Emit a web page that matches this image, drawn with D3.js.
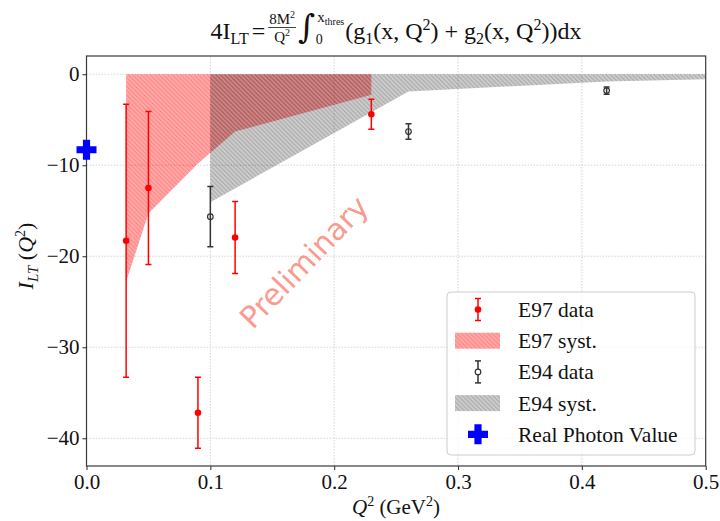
<!DOCTYPE html>
<html>
<head>
<meta charset="utf-8">
<script src="https://cdn.jsdelivr.net/npm/d3@7"></script>
<style>
  html, body { margin: 0; padding: 0; background: #fff; }
  svg { display: block; }
</style>
</head>
<body>
<svg id="chart" width="720" height="521"></svg>
<script>
// E97 measurements (points with statistical errors)
const e97X   = [0.032, 0.05, 0.09, 0.12, 0.23];
const e97Y   = [-18.3, -12.5, -37.2, -17.95, -4.4];
const e97Err = [15.0, 8.4, 3.9, 3.95, 1.65];
// E97 systematic band (from 0 down to these values)
const e97SystX   = [0.032, 0.05, 0.09, 0.12, 0.23];
const e97SystLow = [-22.8, -15.3, -9.8, -6.3, -2.27];

// E94 measurements
const e94X   = [0.10, 0.26, 0.42];
const e94Y   = [-15.65, -6.3, -1.8];
const e94Err = [3.3, 0.85, 0.4];
// E94 systematic band
const e94SystX   = [0.10, 0.26, 0.42, 0.50];
const e94SystLow = [-14.07, -1.9, -0.8, -0.55];

// Real photon point
const photonX = [0.0];
const photonY = [-8.3];

const xTicks = [0.0, 0.1, 0.2, 0.3, 0.4, 0.5];
const yTicks = [0, -10, -20, -30, -40];
const legendLabels = ["E97 data", "E97 syst.", "E94 data", "E94 syst.", "Real Photon Value"];

const SERIF = "'Liberation Serif', 'Times New Roman', serif";
const svg = d3.select("#chart");

const plotL = 86.5, plotR = 705.7, plotT = 56, plotB = 466;
const x = d3.scaleLinear().domain([0, 0.5]).range([plotL, plotR]);
const y = d3.scaleLinear().domain([-43.05, 2.0]).range([plotB, plotT]);

// hatch patterns
const defs = svg.append("defs");
function hatch(id, bg, line) {
  const p = defs.append("pattern").attr("id", id)
    .attr("patternUnits", "userSpaceOnUse")
    .attr("width", 3.1).attr("height", 3.1)
    .attr("patternTransform", "rotate(-45)");
  p.append("rect").attr("width", 3.1).attr("height", 3.1).attr("fill", bg);
  p.append("line").attr("x1", 0.6).attr("x2", 0.6).attr("y1", 0).attr("y2", 3.1)
    .attr("stroke", line).attr("stroke-width", 1);
}
hatch("hRed", "rgba(255,0,0,0.34)", "rgba(255,0,0,0.22)");
hatch("hGrey", "rgba(0,0,0,0.2)", "rgba(0,0,0,0.18)");

defs.append("clipPath").attr("id", "plotClip")
  .append("rect").attr("x", plotL).attr("y", plotT)
  .attr("width", plotR - plotL).attr("height", plotB - plotT);

// grid
const grid = svg.append("g");
grid.selectAll(".gx").data(xTicks.slice(1, -1)).join("line")
  .attr("x1", d => x(d)).attr("x2", d => x(d))
  .attr("y1", plotT).attr("y2", plotB)
  .attr("stroke", "#d4d4d4").attr("stroke-width", 1).attr("stroke-dasharray", "1.5,1.5");
grid.selectAll(".gy").data(yTicks).join("line")
  .attr("y1", d => y(d)).attr("y2", d => y(d))
  .attr("x1", plotL).attr("x2", plotR)
  .attr("stroke", "#d4d4d4").attr("stroke-width", 1).attr("stroke-dasharray", "1.5,1.5");

// systematic bands
const plot = svg.append("g").attr("clip-path", "url(#plotClip)");
const area = d3.area().x(d => x(d[0])).y0(y(0)).y1(d => y(d[1]));
plot.append("path").datum(d3.zip(e97SystX, e97SystLow))
  .attr("d", area).attr("fill", "url(#hRed)");
plot.append("path").datum(d3.zip(e94SystX, e94SystLow))
  .attr("d", area).attr("fill", "url(#hGrey)");

// watermark
svg.append("text")
  .attr("transform", `translate(304,262) rotate(-46)`)
  .attr("text-anchor", "middle").attr("dominant-baseline", "central")
  .attr("font-family", "'DejaVu Sans', sans-serif").attr("font-size", 30)
  .attr("fill", "#fa8072").attr("fill-opacity", 0.8)
  .text("Preliminary");

// error bars
function errorBars(xs, ys, es, color, open) {
  const g = plot.append("g");
  xs.forEach((xv, i) => {
    const cx = x(xv), y1 = y(ys[i] + es[i]), y2 = y(ys[i] - es[i]);
    g.append("line").attr("x1", cx).attr("x2", cx).attr("y1", y1).attr("y2", y2)
      .attr("stroke", color).attr("stroke-width", 1.5);
    [y1, y2].forEach(cy => g.append("line").attr("x1", cx - 3).attr("x2", cx + 3)
      .attr("y1", cy).attr("y2", cy).attr("stroke", color).attr("stroke-width", 1.5));
    g.append("circle").attr("cx", cx).attr("cy", y(ys[i])).attr("r", open ? 2.8 : 3.3)
      .attr("fill", open ? "none" : color)
      .attr("stroke", color).attr("stroke-width", open ? 1.2 : 0);
  });
}
errorBars(e97X, e97Y, e97Err, "#ff0000", false);
errorBars(e94X, e94Y, e94Err, "#333333", true);

// frame
svg.append("rect").attr("x", plotL).attr("y", plotT)
  .attr("width", plotR - plotL).attr("height", plotB - plotT)
  .attr("fill", "none").attr("stroke", "#3a3a3a").attr("stroke-width", 1.2);

// axes
const xAxis = svg.append("g").attr("transform", `translate(0,${plotB})`)
  .call(d3.axisBottom(x).tickValues(xTicks).tickFormat(d3.format(".1f")).tickSize(4).tickPadding(4));
const yAxis = svg.append("g").attr("transform", `translate(${plotL},0)`)
  .call(d3.axisLeft(y).tickValues(yTicks).tickFormat(d => d < 0 ? "\u2212" + Math.abs(d) : d).tickSize(4).tickPadding(3));
[xAxis, yAxis].forEach(a => {
  a.select(".domain").remove();
  a.selectAll(".tick line").attr("stroke", "#3a3a3a").attr("stroke-width", 1.1);
  a.selectAll(".tick text").attr("font-family", SERIF).attr("font-size", 21).attr("fill", "#111");
});

// photon marker (drawn on top, not clipped)
const plusPath = "M-3.6,-10H3.6V-3.6H10V3.6H3.6V10H-3.6V3.6H-10V-3.6H-3.6Z";
svg.selectAll(".photon").data(d3.zip(photonX, photonY)).join("path")
  .attr("d", plusPath).attr("fill", "#0000ff")
  .attr("transform", d => `translate(${x(d[0])},${y(d[1])})`);

// axis labels
const xl = svg.append("text").attr("x", 396).attr("y", 514)
  .attr("text-anchor", "middle").attr("font-family", SERIF).attr("font-size", 21).attr("fill", "#111");
xl.append("tspan").attr("font-style", "italic").text("Q");
xl.append("tspan").attr("font-size", 14).attr("dy", -8).text("2");
xl.append("tspan").attr("dy", 8).text(" (GeV");
xl.append("tspan").attr("font-size", 14).attr("dy", -8).text("2");
xl.append("tspan").attr("dy", 8).text(")");

const yl = svg.append("text").attr("transform", "translate(33,256) rotate(-90)")
  .attr("text-anchor", "middle").attr("font-family", SERIF).attr("font-size", 22).attr("fill", "#111");
yl.append("tspan").attr("font-style", "italic").text("I");
yl.append("tspan").attr("font-style", "italic").attr("font-size", 15).attr("dy", 5).text("LT");
yl.append("tspan").attr("dy", -5).text(" (");
yl.append("tspan").attr("font-style", "italic").text("Q");
yl.append("tspan").attr("font-size", 14).attr("dy", -8).text("2");
yl.append("tspan").attr("dy", 8).text(")");

// title formula
const tg = svg.append("g");
function put(parent, px, py, txt, size, italic, family) {
  const t = parent.append("text").attr("x", px).attr("y", py)
    .attr("font-family", family || SERIF).attr("font-size", size)
    .attr("font-style", italic ? "italic" : "normal").attr("fill", "#111").text(txt);
  return t.node().getComputedTextLength();
}
function seq(parent, x0, parts) {
  let px = x0;
  parts.forEach(p => { px += p.pre || 0; px += put(parent, px, p.dy || 0, p.t, p.s, p.it); px += p.post || 0; });
  return px;
}
let cx = seq(tg, 0, [{t: "4I", s: 24}, {t: "LT", s: 16, dy: 5}, {t: "=", s: 24, pre: 3, post: 3}]);
// fraction
const numG = tg.append("g"), denG = tg.append("g");
const wn = seq(numG, 0, [{t: "8M", s: 15, dy: -15}, {t: "2", s: 10, dy: -21}]);
const wd = seq(denG, 0, [{t: "Q", s: 15, dy: 3}, {t: "2", s: 10, dy: -3}]);
const fw = Math.max(wn, wd) + 2;
numG.attr("transform", `translate(${cx + (fw - wn) / 2},0)`);
denG.attr("transform", `translate(${cx + (fw - wd) / 2},0)`);
tg.append("line").attr("x1", cx).attr("x2", cx + fw).attr("y1", -11.5).attr("y2", -11.5)
  .attr("stroke", "#111").attr("stroke-width", 0.8);
cx += fw + 2;
// integral with limits
const wi = put(tg, cx, -1, "\u222B", 33, false, "'DejaVu Serif', serif");
put(tg, cx + wi + 0.5, 5, "0", 14, false);
let ux = cx + wi + 2;
ux = seq(tg, ux, [{t: "x", s: 15, dy: -17}, {t: "thres", s: 10, dy: -14}]);
cx = ux + 1;
cx = seq(tg, cx, [
  {t: "(g", s: 24}, {t: "1", s: 16, dy: 5}, {t: "(x, Q", s: 24}, {t: "2", s: 16, dy: -9},
  {t: ") + g", s: 24}, {t: "2", s: 16, dy: 5}, {t: "(x, Q", s: 24}, {t: "2", s: 16, dy: -9},
  {t: "))dx", s: 24}
]);
tg.attr("transform", `translate(${396 - cx / 2},39)`);

// legend
const lg = svg.append("g");
lg.append("rect").attr("x", 447).attr("y", 292).attr("width", 248).attr("height", 163)
  .attr("rx", 4).attr("fill", "#fff").attr("fill-opacity", 0.8)
  .attr("stroke", "#cccccc").attr("stroke-width", 1);
const rowY = legendLabels.map((_, i) => 309.5 + i * 31.2);
const hx = 478;
function legendBar(cy, color, open) {
  lg.append("line").attr("x1", hx).attr("x2", hx).attr("y1", cy - 11).attr("y2", cy + 11)
    .attr("stroke", color).attr("stroke-width", 1.5);
  [cy - 11, cy + 11].forEach(v => lg.append("line").attr("x1", hx - 3).attr("x2", hx + 3)
    .attr("y1", v).attr("y2", v).attr("stroke", color).attr("stroke-width", 1.5));
  lg.append("circle").attr("cx", hx).attr("cy", cy).attr("r", open ? 2.8 : 3.3)
    .attr("fill", open ? "#fff" : color).attr("stroke", color).attr("stroke-width", open ? 1.2 : 0);
}
legendBar(rowY[0], "#ff0000", false);
lg.append("rect").attr("x", 455).attr("y", rowY[1] - 8).attr("width", 45).attr("height", 16).attr("fill", "url(#hRed)");
legendBar(rowY[2], "#333333", true);
lg.append("rect").attr("x", 455).attr("y", rowY[3] - 8).attr("width", 45).attr("height", 16).attr("fill", "url(#hGrey)");
lg.append("path").attr("d", plusPath).attr("fill", "#0000ff").attr("transform", `translate(${hx},${rowY[4]})`);
lg.selectAll(".lt").data(legendLabels).join("text")
  .attr("x", 518).attr("y", (d, i) => rowY[i]).attr("dy", "0.35em")
  .attr("font-family", SERIF).attr("font-size", 21.5).attr("fill", "#111")
  .text(d => d);
</script>
</body>
</html>
